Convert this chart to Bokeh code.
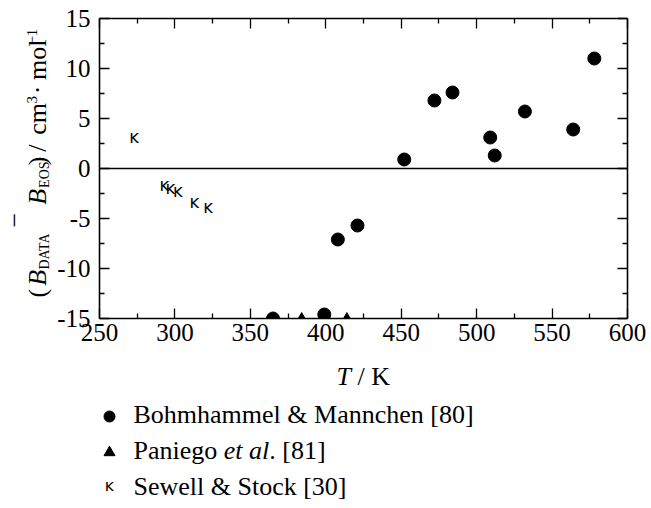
import math
from bokeh.plotting import figure
from bokeh.layouts import column, row
from bokeh.models import LinearAxis, FixedTicker, Span, Label, Range1d
from bokeh.core.properties import value
from bokeh.embed import file_html
from bokeh.resources import INLINE

# ---------------- data ----------------
bm_T = [365, 399, 408, 421, 452, 472, 484, 509, 512, 532, 564, 578]
bm_B = [-15.0, -14.6, -7.1, -5.7, 0.9, 6.8, 7.6, 3.1, 1.3, 5.7, 3.9, 11.0]
pa_T = [384, 414]
pa_B = [-15.1, -15.1]
ss_T = [273, 293, 297, 302, 313, 322]
ss_B = [3.2, -1.6, -1.9, -2.2, -3.3, -3.8]

x_ticks = [250, 300, 350, 400, 450, 500, 550, 600]
x_minor = [275, 325, 375, 425, 475, 525, 575]
y_ticks = [-15, -10, -5, 0, 5, 10, 15]
y_tick_labels = ["-15", "-10", "-5", "0", "5", "10", "15"]
y_minor = [-12.5, -7.5, -2.5, 2.5, 7.5, 12.5]

legend_names = ["Bohmhammel & Mannchen [80]", "Paniego", "Sewell & Stock [30]"]

# ---------------- layout constants ----------------
W, H = 651, 508
YLAB_W = 54           # strip holding the rotated y title
TOP_H = 356           # height of the row holding the chart
FRAME_L, FRAME_R, FRAME_T, FRAME_B = 98, 627, 18, 318
FONT = "Liberation Serif"
K_CHAR = "\u0138"
BASE_SHIFT = 0.35     # empirical baseline correction of Label (in em)


def bare_fig(w, h, x0, x1, y0, y1):
    f = figure(width=w, height=h, x_range=Range1d(x0, x1), y_range=Range1d(y0, y1),
               output_backend="svg", toolbar_location=None,
               x_axis_location=None, y_axis_location=None,
               min_border=0, min_border_left=0, min_border_right=0,
               min_border_top=0, min_border_bottom=0)
    f.xgrid.visible = False
    f.ygrid.visible = False
    f.outline_line_color = None
    f.background_fill_color = "white"
    f.border_fill_color = "white"
    return f


# ---------------- main chart ----------------
p = figure(width=W - YLAB_W, height=TOP_H, x_range=Range1d(250, 600), y_range=Range1d(-15, 15),
           output_backend="svg", toolbar_location=None,
           min_border_left=FRAME_L - YLAB_W, min_border_right=W - FRAME_R,
           min_border_top=FRAME_T, min_border_bottom=TOP_H - FRAME_B)
p.xgrid.visible = False
p.ygrid.visible = False
p.outline_line_color = None
p.background_fill_color = "white"
p.border_fill_color = "white"


def style_axis(ax, show_labels, ticks):
    ax.axis_line_color = "black"
    ax.axis_line_width = 1.6
    ax.major_tick_in = 10
    ax.major_tick_out = 0
    ax.minor_tick_in = 5
    ax.minor_tick_out = 0
    ax.major_tick_line_color = "black"
    ax.minor_tick_line_color = "black"
    ax.major_tick_line_width = 1.3
    ax.minor_tick_line_width = 1.3
    ax.major_label_text_font = FONT
    ax.major_label_text_color = "black"
    ax.major_label_text_font_size = "25px"
    if not show_labels:
        ax.major_label_overrides = {t: "" for t in ticks}
        ax.major_label_standoff = 0


xb = p.xaxis[0]
xb.ticker = FixedTicker(ticks=x_ticks, minor_ticks=x_minor)
style_axis(xb, True, x_ticks)
xb.major_label_standoff = 5

yl = p.yaxis[0]
yl.ticker = FixedTicker(ticks=y_ticks, minor_ticks=y_minor)
style_axis(yl, True, y_ticks)
yl.major_label_standoff = 9
yl.major_label_overrides = {t: s for t, s in zip(y_ticks, y_tick_labels)}

xa = LinearAxis(ticker=FixedTicker(ticks=x_ticks, minor_ticks=x_minor))
style_axis(xa, False, x_ticks)
p.add_layout(xa, "above")
yr = LinearAxis(ticker=FixedTicker(ticks=y_ticks, minor_ticks=y_minor))
style_axis(yr, False, y_ticks)
p.add_layout(yr, "right")

p.add_layout(Span(location=0, dimension="width", line_color="black", line_width=1.6))

p.scatter(bm_T, bm_B, marker="circle", size=13, fill_color="black", line_color="black")
p.scatter(pa_T, pa_B, marker="triangle", size=12, fill_color="black", line_color="black")
p.text(ss_T, ss_B, text=value(K_CHAR), text_font=value("DejaVu Sans"),
       text_font_size=value("17px"), text_align="center", text_baseline="middle",
       text_color="black")

# ---------------- text helpers ----------------
REG = {'(': 333, ')': 333, ' ': 250, '/': 278, 'c': 444, 'm': 778, 'o': 500, 'l': 278,
       '3': 500, '\u00b7': 250, '\u2212': 564, '1': 500, 'D': 722, 'A': 722, 'T': 611,
       'E': 611, 'O': 722, 'S': 556, 'K': 722, 'P': 556, 'a': 444, 'n': 500, 'i': 278,
       'e': 444, 'g': 500, '.': 250, '[': 333, ']': 333, '8': 500}
ITA = {'B': 611, 'T': 556, 'e': 444, 't': 278, ' ': 250, 'a': 500, 'l': 278}


def text_w(s, size, italic=False):
    tab = ITA if italic else REG
    return sum(tab.get(ch, 500) for ch in s) / 1000.0 * size


def add_label(fig, text, cx, cy, size, italic=False, rotated=False, font=FONT):
    # cx, cy: wanted start of the baseline in canvas pixels
    d = BASE_SHIFT * size
    if rotated:
        cx = cx - d
    else:
        cy = cy - d
    fig.add_layout(Label(x=cx, y=cy, text=text, text_font=font, text_font_size=f"{size}px",
                         text_font_style="italic" if italic else "normal",
                         text_color="black", angle=math.pi / 2 if rotated else 0.0,
                         text_align="left", text_baseline="alphabetic"))


def add_run(fig, pieces, cx, cy):
    # horizontal run; spaces advance the pen only
    pos = cx
    for txt, ital, size in pieces:
        lead = len(txt) - len(txt.lstrip(" "))
        core = txt.strip(" ")
        if core:
            add_label(fig, core, pos + text_w(" " * lead, size, ital), cy, size, italic=ital)
        pos += text_w(txt, size, ital)


# ---------------- y title strip (data units == canvas pixels) ----------------
fy = bare_fig(YLAB_W, TOP_H, 0, YLAB_W, TOP_H, 0)
F, SB, SP = 26, 14, 15
BX = 46.5
# (text, italic, size, baseline x, start y)
ytitle = [("(", False, F, BX, 331), ("B", True, F, BX, 317), ("DATA", False, SB, BX + 2.5, 298),
          ("\u2212", False, F, 23.5, 248), ("B", True, F, BX, 221), ("EOS", False, SB, BX + 2.5, 201),
          (")", False, F, BX, 174), ("/", False, F, BX, 158), ("cm", False, F, BX, 138),
          ("3", False, SP, BX - 10, 101), ("\u00b7", False, F, BX, 90), ("mol", False, F, BX, 73),
          ("\u22121", False, SP, BX - 10, 31)]
for txt, ital, size, bx, y0 in ytitle:
    add_label(fy, txt, bx, y0, size, italic=ital, rotated=True)

# ---------------- bottom strip: x title + legend (data units == canvas pixels) ----------------
fb = bare_fig(W, H - TOP_H, 0, W, H, TOP_H)

add_run(fb, [("T", True, 26), (" / K", False, 26)], 336, 385)

key_x, lab_x = 109, 133
key_y = [416, 452, 485]
rows = [423.5, 459.5, 495.5]
fb.scatter([key_x], [key_y[0]], marker="circle", size=11, fill_color="black", line_color="black")
fb.scatter([key_x], [key_y[1]], marker="triangle", size=11, fill_color="black", line_color="black")
fb.text([key_x], [key_y[2]], text=value(K_CHAR), text_font=value("DejaVu Sans"),
        text_font_size=value("16px"), text_align="center", text_baseline="middle",
        text_color="black")

add_run(fb, [(legend_names[0], False, 26)], lab_x, rows[0])
add_run(fb, [(legend_names[1] + " ", False, 26), ("et al", True, 26), (". [81]", False, 26)],
        lab_x, rows[1])
add_run(fb, [(legend_names[2], False, 26)], lab_x, rows[2])

layout = column(row(fy, p, spacing=0), fb, spacing=0)
open("out.html", "w").write(file_html(layout, INLINE))
